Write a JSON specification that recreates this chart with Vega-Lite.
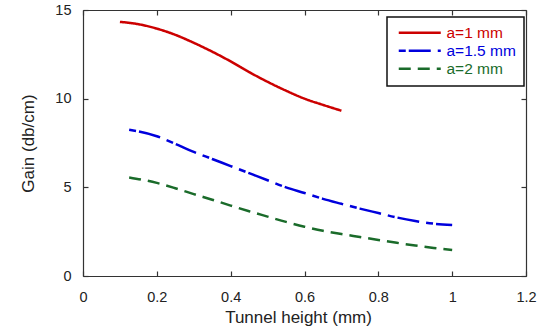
{
  "$schema": "https://vega.github.io/schema/vega-lite/v6.json",
  "width": 443,
  "height": 266,
  "autosize": "none",
  "padding": {"left": 83, "top": 10, "right": 23, "bottom": 57},
  "background": "white",
  "config": {
    "font": "Liberation Sans",
    "view": {"stroke": null},
    "axis": {"grid": false, "domainColor": "#333333", "tickColor": "#333333", "tickSize": -5, "domainWidth": 1.2, "tickWidth": 1.2, "labelColor": "#222222", "titleColor": "#222222", "labelFontSize": 14.5, "titleFontSize": 17, "titleFontWeight": "normal"}
  },
  "data": {"values": [
    {"x": 0.1, "gain": 14.33, "series": "a=1 mm"},
    {"x": 0.15, "gain": 14.2, "series": "a=1 mm"},
    {"x": 0.2, "gain": 13.95, "series": "a=1 mm"},
    {"x": 0.25, "gain": 13.6, "series": "a=1 mm"},
    {"x": 0.3, "gain": 13.15, "series": "a=1 mm"},
    {"x": 0.35, "gain": 12.65, "series": "a=1 mm"},
    {"x": 0.4, "gain": 12.1, "series": "a=1 mm"},
    {"x": 0.45, "gain": 11.5, "series": "a=1 mm"},
    {"x": 0.5, "gain": 10.95, "series": "a=1 mm"},
    {"x": 0.55, "gain": 10.45, "series": "a=1 mm"},
    {"x": 0.6, "gain": 10.0, "series": "a=1 mm"},
    {"x": 0.65, "gain": 9.65, "series": "a=1 mm"},
    {"x": 0.7, "gain": 9.32, "series": "a=1 mm"},
    {"x": 0.125, "gain": 8.25, "series": "a=1.5 mm"},
    {"x": 0.2, "gain": 7.88, "series": "a=1.5 mm"},
    {"x": 0.25, "gain": 7.45, "series": "a=1.5 mm"},
    {"x": 0.3, "gain": 7.0, "series": "a=1.5 mm"},
    {"x": 0.35, "gain": 6.6, "series": "a=1.5 mm"},
    {"x": 0.4, "gain": 6.2, "series": "a=1.5 mm"},
    {"x": 0.45, "gain": 5.8, "series": "a=1.5 mm"},
    {"x": 0.5, "gain": 5.4, "series": "a=1.5 mm"},
    {"x": 0.55, "gain": 5.0, "series": "a=1.5 mm"},
    {"x": 0.6, "gain": 4.68, "series": "a=1.5 mm"},
    {"x": 0.65, "gain": 4.35, "series": "a=1.5 mm"},
    {"x": 0.7, "gain": 4.07, "series": "a=1.5 mm"},
    {"x": 0.75, "gain": 3.8, "series": "a=1.5 mm"},
    {"x": 0.8, "gain": 3.55, "series": "a=1.5 mm"},
    {"x": 0.85, "gain": 3.3, "series": "a=1.5 mm"},
    {"x": 0.9, "gain": 3.1, "series": "a=1.5 mm"},
    {"x": 0.95, "gain": 2.95, "series": "a=1.5 mm"},
    {"x": 1.0, "gain": 2.88, "series": "a=1.5 mm"},
    {"x": 0.125, "gain": 5.56, "series": "a=2 mm"},
    {"x": 0.2, "gain": 5.25, "series": "a=2 mm"},
    {"x": 0.25, "gain": 4.95, "series": "a=2 mm"},
    {"x": 0.3, "gain": 4.62, "series": "a=2 mm"},
    {"x": 0.35, "gain": 4.3, "series": "a=2 mm"},
    {"x": 0.4, "gain": 3.97, "series": "a=2 mm"},
    {"x": 0.45, "gain": 3.65, "series": "a=2 mm"},
    {"x": 0.5, "gain": 3.35, "series": "a=2 mm"},
    {"x": 0.55, "gain": 3.05, "series": "a=2 mm"},
    {"x": 0.6, "gain": 2.78, "series": "a=2 mm"},
    {"x": 0.65, "gain": 2.55, "series": "a=2 mm"},
    {"x": 0.7, "gain": 2.37, "series": "a=2 mm"},
    {"x": 0.75, "gain": 2.2, "series": "a=2 mm"},
    {"x": 0.8, "gain": 2.03, "series": "a=2 mm"},
    {"x": 0.85, "gain": 1.87, "series": "a=2 mm"},
    {"x": 0.9, "gain": 1.72, "series": "a=2 mm"},
    {"x": 0.95, "gain": 1.58, "series": "a=2 mm"},
    {"x": 1.0, "gain": 1.47, "series": "a=2 mm"}
  ]},
  "layer": [
    {
      "mark": {"type": "line", "strokeWidth": 2.5, "interpolate": "monotone"},
      "encoding": {
        "x": {"field": "x", "type": "quantitative", "scale": {"domain": [0, 1.2], "nice": false},
              "axis": {"title": "Tunnel height (mm)", "values": [0, 0.2, 0.4, 0.6, 0.8, 1, 1.2], "format": "~g", "labelPadding": 19, "titlePadding": 6, "titleX": 215, "labelFlush": false}},
        "y": {"field": "gain", "type": "quantitative", "scale": {"domain": [0, 15], "nice": false},
              "axis": {"title": "Gain (db/cm)", "values": [0, 5, 10, 15], "labelPadding": 17, "titlePadding": 17, "labelFlush": false}},
        "color": {"field": "series", "type": "nominal",
                  "scale": {"domain": ["a=1 mm", "a=1.5 mm", "a=2 mm"], "range": ["#cc0000", "#0000dd", "#1a6b2a"]},
                  "legend": {"title": null, "orient": "none", "legendX": 304, "legendY": 7,
                             "fillColor": "white", "strokeColor": "#111111", "padding": 8,
                             "symbolType": "M-4.2,0H4.2", "symbolSize": 100, "symbolStrokeWidth": 2.5, "symbolOffset": 17,
                             "labelFontSize": 15.5, "labelOffset": 19, "rowPadding": 1,
                             "encode": {"labels": {"update": {"fill": {"scale": "color", "field": "value"}}},
                                        "legend": {"update": {"strokeWidth": {"value": 1.5}}}}}},
        "strokeDash": {"field": "series", "type": "nominal",
                       "scale": {"domain": ["a=1 mm", "a=1.5 mm", "a=2 mm"], "range": [[1, 0], [7, 3, 22, 7], [12, 7]]},
                       "legend": {"title": null}}
      }
    },
    {
      "mark": {"type": "line", "opacity": 0},
      "encoding": {
        "x": {"field": "x", "type": "quantitative", "scale": {"domain": [0, 1.2], "nice": false},
              "axis": {"orient": "top", "title": null, "labels": false, "values": [0, 0.2, 0.4, 0.6, 0.8, 1, 1.2]}},
        "y": {"field": "gain", "type": "quantitative", "scale": {"domain": [0, 15], "nice": false},
              "axis": {"orient": "right", "title": null, "labels": false, "values": [0, 5, 10, 15]}},
        "detail": {"field": "series"}
      }
    }
  ],
  "resolve": {"axis": {"x": "independent", "y": "independent"}}
}
